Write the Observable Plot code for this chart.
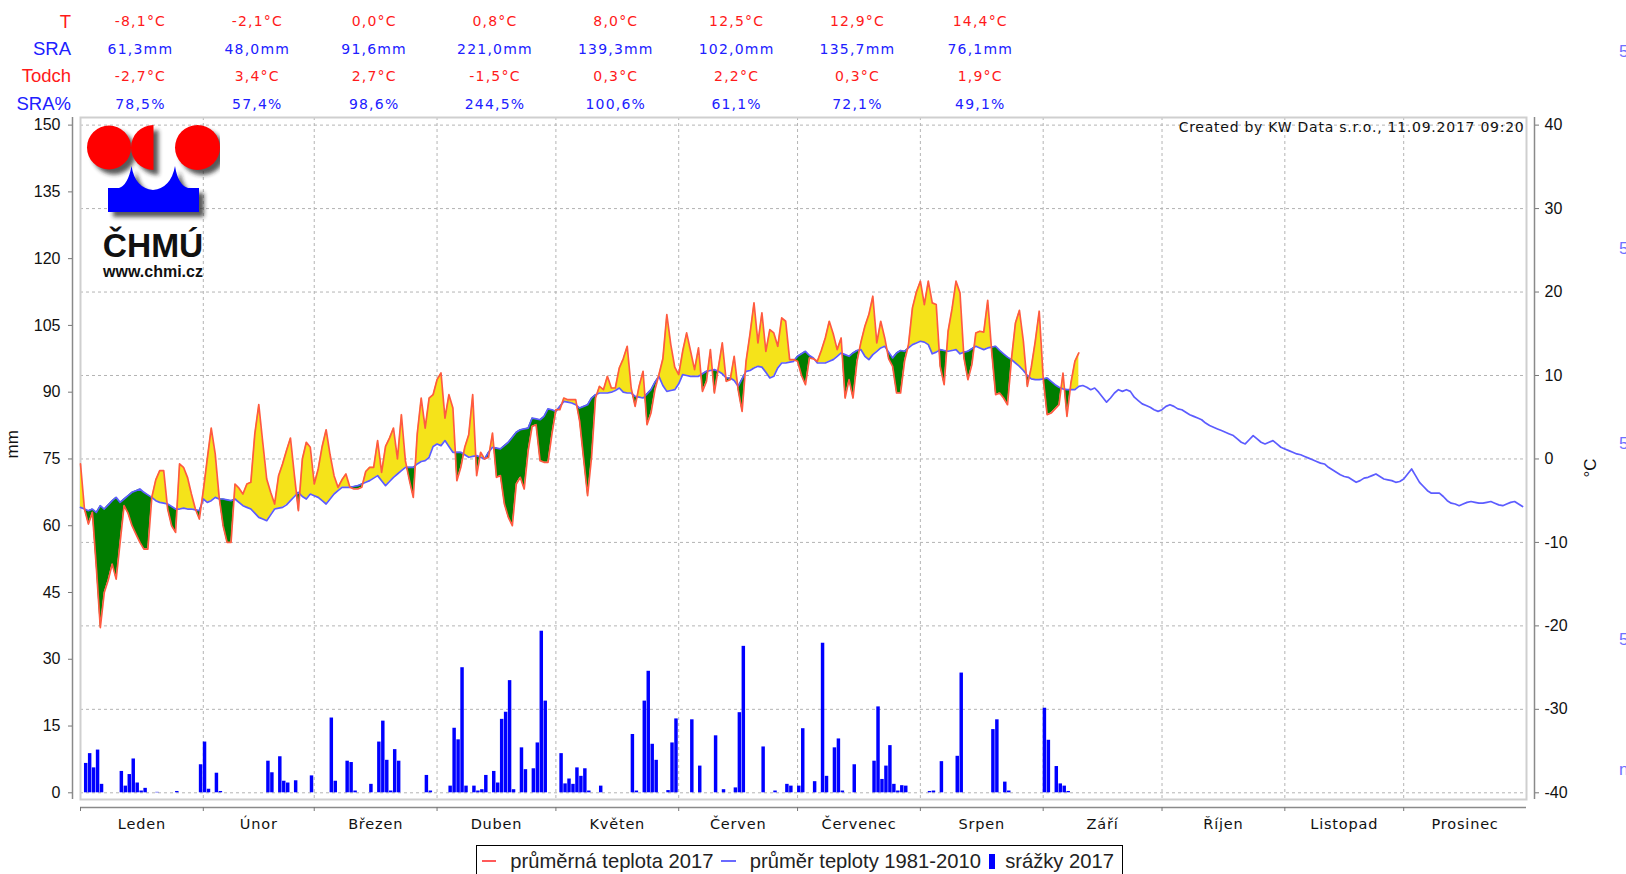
<!DOCTYPE html>
<html>
<head>
<meta charset="utf-8">
<script src="https://cdn.jsdelivr.net/npm/d3@7"></script>
<script src="https://cdn.jsdelivr.net/npm/@observablehq/plot@0.6"></script>
<style>
  html, body { margin: 0; padding: 0; background: #fff; }
  body { width: 1626px; height: 874px; overflow: hidden; position: relative; font-family: "Liberation Sans", Arial, sans-serif; }
  #chart { position: absolute; left: 0; top: 0; }
  #logo { position: absolute; left: 80px; top: 117px; }
  #legend { position: absolute; left: 476px; top: 845px; width: 647px; height: 42px; box-sizing: border-box;
            border: 1.5px solid #000; display: flex; align-items: center; padding: 0 0 10px 5px;
            font-size: 20.2px; color: #222; white-space: nowrap; background: #fff; }
  #legend .ln { display: inline-block; width: 23px; height: 2px; margin-right: 14px; }
  #legend .sq { display: inline-block; width: 10px; height: 15px; margin-right: 10px; background: #0000ff; }
  #legend .lb { margin-right: 8px; }
  .edge { position: absolute; left: 1619px; font-size: 17px; line-height: 20px; color: #7070ff; }
</style>
</head>
<body>
<div id="chart"></div>

<svg id="logo" width="140" height="170" viewBox="80 117 140 170">
  <defs>
    <filter id="blur" x="-20%" y="-20%" width="140%" height="140%">
      <feGaussianBlur stdDeviation="2"/>
    </filter>
  </defs>
  <g transform="translate(5,5)" fill="#222" opacity="0.75" filter="url(#blur)">
    <circle cx="109" cy="147.5" r="22"/>
    <path d="M153.5,125 A22.5,22.5 0 0 0 153.5,170 Z"/>
    <circle cx="197.5" cy="147.5" r="22.5"/>
    <path d="M108,212 L108,188 L119,188 Q128,185 131.5,166 Q135,188 153,190 Q171,188 175,166 Q178,185 188,188 L199,188 L199,212 Z"/>
  </g>
  <g fill="#ff0000">
    <circle cx="109" cy="147.5" r="22"/>
    <path d="M153.5,125 A22.5,22.5 0 0 0 153.5,170 Z"/>
    <circle cx="197.5" cy="147.5" r="22.5"/>
  </g>
  <path fill="#0000ff" d="M108,212 L108,188 L119,188 Q128,185 131.5,166 Q135,188 153,190 Q171,188 175,166 Q178,185 188,188 L199,188 L199,212 Z"/>
  <text x="153" y="257" text-anchor="middle" font-family="Liberation Sans, Arial, sans-serif" font-weight="bold" font-size="33.5" fill="#111">ČHMÚ</text>
  <text x="153" y="277" text-anchor="middle" font-family="Liberation Sans, Arial, sans-serif" font-weight="bold" font-size="16" fill="#111">www.chmi.cz</text>
</svg>

<div id="legend"></div>

<script>
// ---------------- data ----------------
const monthNames = ["Leden","Únor","Březen","Duben","Květen","Červen","Červenec","Srpen","Září","Říjen","Listopad","Prosinec"];
const statLabels = ["T","SRA","Todch","SRA%"];
const tMean  = [-8.1, -2.1, 0.0, 0.8, 8.0, 12.5, 12.9, 14.4];
const sraMm  = [61.3, 48.0, 91.6, 221.0, 139.3, 102.0, 135.7, 76.1];
const tDiff  = [-2.7, 3.4, 2.7, -1.5, 0.3, 2.2, 0.3, 1.9];
const sraPct = [78.5, 57.4, 98.6, 244.5, 100.6, 61.1, 72.1, 49.1];
const mmTicks = [0, 15, 30, 45, 60, 75, 90, 105, 120, 135, 150];
const tempTicks = [-40, -30, -20, -10, 0, 10, 20, 30, 40];
const legendLabels = ["průměrná teplota 2017", "průměr teploty 1981-2010", "srážky 2017"];
const creditText = "Created by KW Data s.r.o., 11.09.2017 09:20";
const edgeTexts = ["5", "5", "5", "5", "n"];

// daily mean temperature 2017 (°C), from 1 January
const temp2017 = [
  -0.6,-6.0,-7.8,-6.4,-13.0,-20.2,-16.0,-14.5,-12.6,-14.4,
  -10.0,-5.6,-6.5,-8.0,-9.0,-10.0,-10.8,-10.8,-4.6,-2.5,
  -1.4,-1.4,-6.0,-8.0,-8.8,-0.6,-1.0,-2.2,-4.2,-6.0,
  -7.2,-3.8,0.0,3.7,0.6,-4.6,-8.0,-10.0,-10.0,-3.0,
  -3.5,-4.2,-3.0,-2.8,3.0,6.5,2.0,-2.4,-4.0,-5.4,
  -2.0,-0.6,1.0,2.5,-2.0,-6.2,0.0,2.0,1.4,-3.0,
  -1.2,1.5,3.5,0.5,-2.0,-3.4,-2.5,-1.8,-3.4,-3.6,
  -3.6,-3.4,-1.5,-1.0,-1.0,2.2,-1.6,1.5,2.5,3.7,
  0.0,5.3,-0.2,-2.5,-4.6,3.0,7.3,3.7,7.3,7.7,
  9.5,10.3,4.9,7.7,6.1,-2.6,-1.0,1.4,2.9,7.7,
  -2.0,0.8,0.0,0.2,3.1,-2.2,-2.0,-5.4,-7.0,-8.0,
  -3.0,-2.2,-3.6,1.0,3.9,4.1,-0.2,-0.4,-0.4,3.0,
  5.9,5.9,7.3,7.1,7.1,7.1,4.5,0.0,-4.4,0.2,
  7.3,8.7,8.3,9.9,8.5,8.5,10.9,12.0,13.5,8.5,
  6.3,8.7,10.5,4.1,5.5,8.3,10.1,12.0,17.3,13.7,
  11.0,10.1,12.9,15.1,12.9,10.7,13.3,8.1,9.3,13.1,
  7.9,10.9,13.9,9.3,9.5,12.3,8.3,5.7,11.7,15.0,
  18.7,13.9,17.5,12.9,15.5,15.1,13.5,16.9,16.5,11.9,
  11.9,11.7,10.0,8.9,12.1,12.0,11.7,13.0,14.5,16.5,
  15.0,13.1,14.5,7.3,9.5,7.3,11.7,14.0,15.9,17.3,
  19.5,13.9,16.5,14.5,12.0,11.1,7.9,7.9,11.7,13.7,
  18.1,20.0,21.3,18.5,21.3,18.7,18.5,11.1,8.9,15.3,
  18.0,21.3,19.9,12.1,9.5,11.3,15.1,15.3,15.2,19.0,
  12.9,7.7,7.9,7.3,6.5,12.0,16.3,17.8,14.1,8.7,
  11.0,14.1,17.7,9.7,5.3,5.5,6.0,6.5,10.3,5.1,
  9.1,11.7,12.7
];

// daily normal temperature 1981-2010 (°C), from 1 January
const tempNormal = [
  -5.8,-6.0,-6.2,-6.0,-6.4,-5.6,-6.0,-5.5,-5.0,-4.6,
  -5.2,-4.8,-4.4,-4.0,-3.8,-3.6,-4.0,-4.3,-4.6,-5.0,
  -5.2,-5.3,-5.4,-5.7,-6.0,-6.0,-5.9,-6.0,-6.0,-6.1,
  -6.2,-4.8,-5.2,-5.0,-4.6,-4.8,-4.8,-4.9,-5.0,-4.8,
  -5.2,-5.6,-5.8,-6.0,-6.5,-7.0,-7.2,-7.4,-6.7,-6.0,
  -5.9,-5.8,-5.5,-5.0,-4.5,-4.0,-4.5,-4.8,-4.2,-4.4,
  -4.6,-5.0,-5.4,-4.8,-4.2,-3.8,-3.4,-3.4,-3.4,-3.3,
  -3.2,-3.0,-2.8,-2.6,-2.3,-2.0,-2.6,-3.2,-2.7,-2.2,
  -1.8,-1.4,-1.0,-1.0,-1.0,-0.6,-0.3,-0.2,0.2,1.5,
  1.8,1.6,2.2,1.5,0.8,0.8,0.8,0.5,0.2,0.3,
  0.4,0.2,0.0,0.8,1.4,1.3,1.2,1.6,2.0,2.6,
  3.2,3.5,3.6,3.7,4.9,4.8,4.7,5.1,6.0,5.9,
  5.7,6.3,6.9,6.8,6.7,6.5,6.1,6.3,6.5,7.3,
  7.7,7.9,7.9,7.9,8.0,8.2,8.5,8.0,7.9,7.9,
  7.5,7.4,7.3,7.8,8.3,9.2,9.9,8.8,8.1,8.2,
  8.3,9.0,10.1,10.0,9.9,9.9,9.9,10.2,10.5,10.6,
  10.7,10.5,10.2,9.7,9.7,9.4,8.7,9.6,10.5,10.6,
  10.9,11.1,11.0,10.4,9.7,9.9,10.9,11.5,11.5,11.6,
  11.7,12.3,12.6,12.9,12.4,12.1,11.5,11.5,11.5,11.7,
  11.9,12.3,12.7,12.5,12.3,12.7,13.0,13.1,12.3,11.9,
  12.5,12.9,13.3,13.5,12.8,12.1,12.7,13.0,12.9,13.3,
  13.7,13.9,14.1,14.0,13.7,12.6,12.8,13.1,13.0,12.9,
  13.0,13.1,12.6,12.8,12.9,13.2,13.5,13.3,13.1,13.3,
  13.4,13.5,13.0,12.6,12.2,11.9,11.5,11.1,10.6,10.0,
  9.6,9.5,9.5,9.6,9.7,9.3,8.9,8.6,8.4,8.3,
  8.3,8.3,8.7,8.8,8.6,8.3,8.5,8.0,7.4,6.8,
  7.3,7.9,8.3,8.1,8.3,8.1,7.4,7.0,6.6,6.4,
  6.2,5.9,5.7,5.9,6.3,6.5,6.3,6.0,5.9,5.6,
  5.3,5.1,4.9,4.7,4.3,4.0,3.8,3.6,3.4,3.2,
  3.0,2.8,2.4,2.0,1.8,2.3,2.8,2.4,2.0,1.8,
  2.0,2.2,1.8,1.4,1.2,1.0,0.8,0.6,0.5,0.3,
  0.1,-0.1,-0.3,-0.5,-0.6,-1.0,-1.3,-1.6,-1.9,-2.1,
  -2.2,-2.5,-2.8,-2.6,-2.3,-2.2,-2.0,-1.8,-2.1,-2.4,
  -2.5,-2.6,-2.8,-2.7,-2.4,-1.8,-1.2,-2.0,-2.8,-3.3,
  -3.8,-4.1,-4.1,-4.1,-4.5,-5.0,-5.3,-5.4,-5.6,-5.4,
  -5.2,-5.1,-5.2,-5.3,-5.3,-5.2,-5.1,-5.3,-5.5,-5.6,
  -5.4,-5.2,-5.1,-5.4,-5.7
];

// daily precipitation 2017: day of year (0 = 1 January) and amount (mm)
const rainDay = [
  1,2,3,4,5,10,11,12,13,14,15,16,19,24,30,
  31,32,34,35,47,48,50,51,52,54,58,
  63,64,67,68,69,73,75,76,77,78,79,80,87,88,
  93,94,95,96,97,99,100,101,102,104,105,106,107,108,109,111,112,114,115,116,117,
  121,122,123,124,125,126,127,128,131,139,140,142,143,144,145,148,149,150,
  154,156,160,162,165,166,167,172,175,178,179,
  181,182,185,187,188,190,191,192,195,200,201,202,203,204,205,206,207,208,
  214,215,217,221,222,230,231,233,234,
  243,244,246,247,248,249
];
const rainMm = [
  6.6,8.8,5.6,9.6,1.9,4.8,1.5,4.1,7.6,2.2,0.4,1.0,0.1,0.3,6.3,
  11.4,0.8,4.4,0.3,7.1,4.5,8.1,2.6,2.2,2.7,3.8,
  16.8,2.6,7.1,6.8,0.4,1.9,11.4,16.1,7.3,0.4,9.7,7.1,3.9,0.4,
  1.5,14.5,11.9,28.1,1.5,1.5,0.4,0.7,3.9,4.8,2.2,16.5,18.1,25.2,0.7,10.1,5.2,5.4,11.2,36.3,20.6,
  8.8,2.0,3.1,1.9,5.6,3.7,5.4,0.4,1.5,13.1,0.4,20.6,27.3,10.9,7.3,0.5,11.2,16.6,
  16.4,6.0,12.8,0.7,1.1,18.0,32.9,10.3,0.4,1.9,1.5,
  1.5,14.4,2.5,33.6,3.7,10.1,12.1,0.4,6.3,7.1,19.3,3.0,6.0,10.6,1.9,0.4,1.6,1.5,
  0.3,0.4,7.0,8.2,26.9,14.2,16.4,2.4,0.4,
  19.0,11.8,5.9,2.0,1.5,0.3
];

// ---------------- helpers ----------------
const DAY = 864e5;
const T0 = Date.UTC(2017, 0, 1);
const dayDate = i => new Date(T0 + i * DAY);
const tY = t => (t + 40) * 150 / 80;          // °C -> position on the mm scale
const fmt1 = v => v.toFixed(1).replace(".", ",");
const monthStart = m => new Date(Date.UTC(2017, m, 1));
const monthMid = m => new Date((Date.UTC(2017, m, 1) + Date.UTC(2017, m + 1, 1)) / 2);

// area between the 2017 curve and the normal, split at crossings
const fillPts = [];
for (let i = 0; i < temp2017.length; i++) {
  const a = temp2017[i] - tempNormal[i];
  fillPts.push({date: dayDate(i), n: tY(tempNormal[i]), t: tY(temp2017[i])});
  if (i + 1 < temp2017.length) {
    const b = temp2017[i + 1] - tempNormal[i + 1];
    if (a * b < 0) {
      const f = a / (a - b);
      const v = tY(tempNormal[i] + f * (tempNormal[i + 1] - tempNormal[i]));
      fillPts.push({date: new Date(T0 + (i + f) * DAY), n: v, t: v});
    }
  }
}

const rain = rainDay.map((d, i) => ({d0: dayDate(d), d1: dayDate(d + 1), mm: rainMm[i]}));

const statRows = [
  {label: statLabels[0], vals: tMean.map(v => fmt1(v) + "°C"),  color: "#ff1a1a", dy: -95.5},
  {label: statLabels[1], vals: sraMm.map(v => fmt1(v) + "mm"),  color: "#2020ff", dy: -68},
  {label: statLabels[2], vals: tDiff.map(v => fmt1(v) + "°C"),  color: "#ff1a1a", dy: -41},
  {label: statLabels[3], vals: sraPct.map(v => fmt1(v) + "%"),  color: "#2020ff", dy: -13}
];

const Y_DOMAIN = [-1.505, 151.71];
const gridStyle = {stroke: "#b4b4b4", strokeOpacity: 1, strokeWidth: 1, strokeDasharray: "3,3"};
const valFont = "DejaVu Sans, Verdana, sans-serif";

const marks = [
  Plot.gridX(d3.range(1, 12).map(monthStart), gridStyle),
  Plot.gridY(tempTicks.map(tY), gridStyle),
  Plot.frame({stroke: "#cfcfcf", strokeWidth: 2}),
  // precipitation bars
  Plot.rectY(rain, {x1: "d0", x2: "d1", y1: 0, y2: "mm", fill: "#0000ff", insetRight: 0.5}),
  // temperature anomaly fills
  Plot.areaY(fillPts, {x: "date", y1: "n", y2: d => Math.max(d.t, d.n), fill: "#f5e31a"}),
  Plot.areaY(fillPts, {x: "date", y1: "n", y2: d => Math.min(d.t, d.n), fill: "#007d00"}),
  Plot.lineY(tempNormal, {x: (d, i) => dayDate(i), y: d => tY(d), stroke: "#5c5cff", strokeWidth: 1.7}),
  Plot.lineY(temp2017, {x: (d, i) => dayDate(i), y: d => tY(d), stroke: "#ff5a40", strokeWidth: 1.7}),
  // axis lines
  Plot.ruleX([dayDate(0)], {dx: -8, stroke: "#8a8a8a", strokeWidth: 1.5}),
  Plot.ruleX([dayDate(365)], {dx: 8, stroke: "#8a8a8a", strokeWidth: 1.5}),
  Plot.ruleY([Y_DOMAIN[0]], {dy: 8, stroke: "#8a8a8a", strokeWidth: 1.5}),
  // left axis (mm)
  Plot.axisY(mmTicks, {anchor: "left", dx: -8, tickSize: 4, tickPadding: 8, stroke: "#777", fill: "#111",
    fontSize: 16, tickFormat: d => String(d), label: null}),
  // right axis (°C)
  Plot.axisY(tempTicks.map(tY), {anchor: "right", dx: 8, tickSize: 4, tickPadding: 6, stroke: "#777", fill: "#111",
    fontSize: 16, tickFormat: v => String(Math.round(v * 80 / 150 - 40)), label: null}),
  // bottom axis ticks and month labels
  Plot.axisX(d3.range(0, 12).map(monthStart), {anchor: "bottom", dy: 8, tickSize: 4, stroke: "#777", fill: "none", label: null}),
  Plot.text(monthNames, {x: (d, i) => monthMid(i), frameAnchor: "bottom", dy: 25, lineAnchor: "middle",
    fontSize: 14.5, fontFamily: valFont, fill: "#111"}),
  // axis titles
  Plot.text(["mm"], {frameAnchor: "left", dx: -67.5, rotate: -90, fontSize: 17, fill: "#111"}),
  Plot.text(["°C"], {frameAnchor: "right", dx: 64, rotate: -90, fontSize: 17, fill: "#111"}),
  // credit
  Plot.text([creditText], {frameAnchor: "top-right", dx: -2, dy: 10.5, textAnchor: "end", lineAnchor: "middle",
    fontSize: 14, fontFamily: valFont, fill: "#111"})
];

// monthly statistics table above the plot
for (const row of statRows) {
  marks.push(Plot.text([row.label], {frameAnchor: "top-left", dx: -9.5, dy: row.dy, textAnchor: "end",
    lineAnchor: "middle", fontSize: 18.5, fill: row.color}));
  marks.push(Plot.text(row.vals, {x: (d, i) => monthMid(i), frameAnchor: "top", dy: row.dy, dx: -1.5, lineAnchor: "middle",
    fontSize: 14, fontFamily: valFont, fill: row.color}));
}

const chart = Plot.plot({
  width: 1626,
  height: 874,
  marginLeft: 80,
  marginRight: 100,
  marginTop: 117,
  marginBottom: 75,
  style: {fontFamily: "Liberation Sans, Arial, sans-serif", background: "#fff", overflow: "visible"},
  x: {type: "utc", domain: [dayDate(0), dayDate(365)]},
  y: {domain: Y_DOMAIN},
  marks
});
document.getElementById("chart").append(chart);

// letter spacing for the wide, Java-style texts
const valueTexts = new Set(statRows.flatMap(r => r.vals));
const monthSet = new Set(monthNames);
chart.querySelectorAll("text").forEach(t => {
  const s = t.textContent;
  if (valueTexts.has(s)) t.style.letterSpacing = "1.2px";
  else if (monthSet.has(s)) t.style.letterSpacing = "0.8px";
  else if (s === creditText) t.style.letterSpacing = "0.75px";
});

// legend
const legend = document.getElementById("legend");
const swatches = [
  {cls: "ln", color: "#ff5a5a"},
  {cls: "ln", color: "#6a6aff"},
  {cls: "sq", color: "#0000ff"}
];
legendLabels.forEach((label, i) => {
  const sw = document.createElement("span");
  sw.className = swatches[i].cls;
  sw.style.background = swatches[i].color;
  const tx = document.createElement("span");
  tx.className = "lb";
  tx.textContent = label;
  legend.append(sw, tx);
});

// clipped texts at the right edge
const edgeTops = [42, 239, 434, 630, 760];
edgeTexts.forEach((t, i) => {
  const s = document.createElement("span");
  s.className = "edge";
  s.style.top = edgeTops[i] + "px";
  s.textContent = t;
  document.body.append(s);
});
</script>
</body>
</html>
